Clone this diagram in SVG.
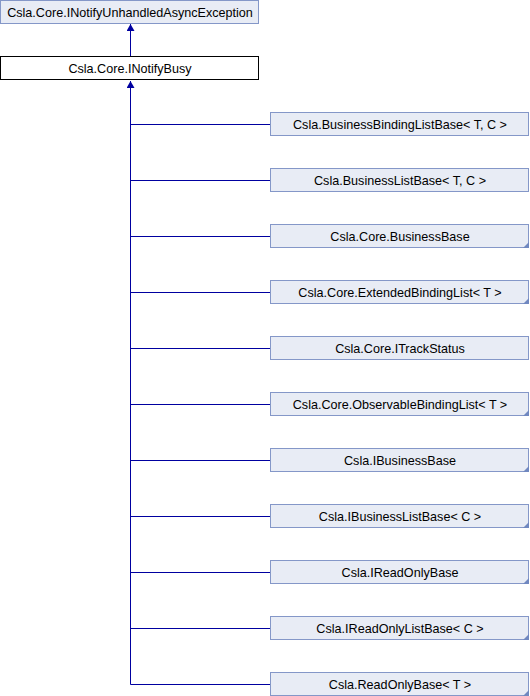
<svg xmlns="http://www.w3.org/2000/svg" width="530" height="696" viewBox="0 0 530 696">
<style>
.n{fill:#e8ecf5;stroke:#8497c8;stroke-width:1}
.w{fill:#ffffff;stroke:#000000;stroke-width:1}
.t{font-family:"Liberation Sans",Arial,sans-serif;font-size:12.6px;fill:#000000;text-anchor:middle}
.c{stroke:#0000a0;stroke-width:1;fill:none}
.tri{fill:#7088c0}
</style>
<defs>
<marker id="ah" markerWidth="8" markerHeight="8" refX="7" refY="4" orient="auto" markerUnits="userSpaceOnUse">
<path d="M0,0 L7,4 L0,8 z" fill="#0000a0"/>
</marker>
</defs>
<rect width="530" height="696" fill="#ffffff"/>
<g id="connectors">
<path class="c" d="M130.5,56 L130.5,24" marker-end="url(#ah)"/>
<path class="c" d="M130.5,684.5 L130.5,81" marker-end="url(#ah)"/>
<path class="c" d="M130.5,124.5 H270"/>
<path class="c" d="M130.5,180.5 H270"/>
<path class="c" d="M130.5,236.5 H270"/>
<path class="c" d="M130.5,292.5 H270"/>
<path class="c" d="M130.5,348.5 H270"/>
<path class="c" d="M130.5,404.5 H270"/>
<path class="c" d="M130.5,460.5 H270"/>
<path class="c" d="M130.5,516.5 H270"/>
<path class="c" d="M130.5,572.5 H270"/>
<path class="c" d="M130.5,628.5 H270"/>
<path class="c" d="M130.5,684.5 H270"/>
</g>
<g id="n_async"><rect class="n" x="0.5" y="0.5" width="258" height="23"/><text class="t" x="130" y="16.5">Csla.Core.INotifyUnhandledAsyncException</text></g>
<g id="n_busy"><rect class="w" x="0.5" y="56.5" width="258" height="23"/><text class="t" x="130" y="72.5">Csla.Core.INotifyBusy</text></g>
<g id="n1"><rect class="n" x="270.5" y="112.5" width="258" height="23"/><text class="t" x="400" y="128.5">Csla.BusinessBindingListBase&lt; T, C &gt;</text></g>
<g id="n2"><rect class="n" x="270.5" y="168.5" width="258" height="23"/><text class="t" x="400" y="184.5">Csla.BusinessListBase&lt; T, C &gt;</text></g>
<g id="n3"><rect class="n" x="270.5" y="224.5" width="258" height="23"/><path class="tri" d="M529,242 L529,248 L523,248 z"/><text class="t" x="400" y="240.5">Csla.Core.BusinessBase</text></g>
<g id="n4"><rect class="n" x="270.5" y="280.5" width="258" height="23"/><path class="tri" d="M529,298 L529,304 L523,304 z"/><text class="t" x="400" y="296.5">Csla.Core.ExtendedBindingList&lt; T &gt;</text></g>
<g id="n5"><rect class="n" x="270.5" y="336.5" width="258" height="23"/><text class="t" x="400" y="352.5">Csla.Core.ITrackStatus</text></g>
<g id="n6"><rect class="n" x="270.5" y="392.5" width="258" height="23"/><path class="tri" d="M529,410 L529,416 L523,416 z"/><text class="t" x="400" y="408.5">Csla.Core.ObservableBindingList&lt; T &gt;</text></g>
<g id="n7"><rect class="n" x="270.5" y="448.5" width="258" height="23"/><path class="tri" d="M529,466 L529,472 L523,472 z"/><text class="t" x="400" y="464.5">Csla.IBusinessBase</text></g>
<g id="n8"><rect class="n" x="270.5" y="504.5" width="258" height="23"/><path class="tri" d="M529,522 L529,528 L523,528 z"/><text class="t" x="400" y="520.5">Csla.IBusinessListBase&lt; C &gt;</text></g>
<g id="n9"><rect class="n" x="270.5" y="560.5" width="258" height="23"/><path class="tri" d="M529,578 L529,584 L523,584 z"/><text class="t" x="400" y="576.5">Csla.IReadOnlyBase</text></g>
<g id="n10"><rect class="n" x="270.5" y="616.5" width="258" height="23"/><path class="tri" d="M529,634 L529,640 L523,640 z"/><text class="t" x="400" y="632.5">Csla.IReadOnlyListBase&lt; C &gt;</text></g>
<g id="n11"><rect class="n" x="270.5" y="672.5" width="258" height="23"/><path class="tri" d="M529,690 L529,696 L523,696 z"/><text class="t" x="400" y="688.5">Csla.ReadOnlyBase&lt; T &gt;</text></g>
</svg>
